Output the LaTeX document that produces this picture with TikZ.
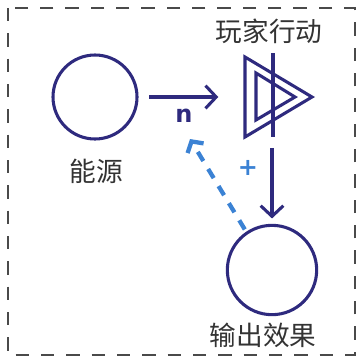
\documentclass[tikz,border=0pt]{standalone}
\usepackage{fontspec}
\setmainfont{Noto Sans}
\newfontfamily\cjk{Noto Sans CJK SC}
\newfontfamily\signfont{DejaVu Sans}
\usetikzlibrary{arrows.meta}
\definecolor{navy}{HTML}{2E2A7E}
\definecolor{flow}{HTML}{3B82D4}
\definecolor{frameg}{HTML}{4A4A4A}

\begin{document}
\begin{tikzpicture}[x=0.75pt, y=-0.75pt, line width=2.3pt,
  >={Straight Barb[length=8pt, width=17pt]},
  lab/.style={font=\cjk\fontsize{20}{24}\selectfont, text=black!80},
  pool/.style={circle, draw=navy, line width=2.3pt, inner sep=0pt, minimum size=63pt},
  sign/.style={font=\signfont\bfseries\fontsize{18}{20}\selectfont, inner sep=1pt}]
\useasboundingbox (0,0) rectangle (359,358);
% dashed frame
\draw[frameg, line width=1.7pt, dash pattern=on 10pt off 9pt] (8,8) rectangle (355,355);
% nodes
\node[pool] (energy) at (95,97) {};
\node[lab] (energyl) at (96,171) {能源};
\node[inner sep=0pt, minimum width=50pt, minimum height=63pt] (action) at (278.5,95) {};
\draw[navy] (245,57) -- (312,97) -- (245,137) -- cycle;
\draw[navy] (256,73) -- (295,97) -- (256,120) -- cycle;
\draw[navy] (273,53) -- (273,137);
\node[lab] (actionl) at (269,31) {玩家行动};
\node[pool, minimum size=67pt] (output) at (272,270) {};
\node[lab] (outputl) at (263,335) {输出效果};
\node[sign, text=navy] (n) at (184,116) {n};
\node[sign, text=flow] (plus) at (248,168) {+};
\coordinate (tip) at (190,139);
% connectors
\draw[->, navy, shorten <=8pt, shorten >=19pt] (energy.east) -- (energy.east -| action.west);
\draw[->, navy, shorten <=7pt, shorten >=4pt] (action.south -| output.north) -- (output.north);
\draw[flow, line width=3.2pt, dash pattern=on 8pt off 7pt, shorten <=2pt,
  -{Straight Barb[length=6pt, width=14pt]}] (output.124) -- (tip);
\end{tikzpicture}
\end{document}
